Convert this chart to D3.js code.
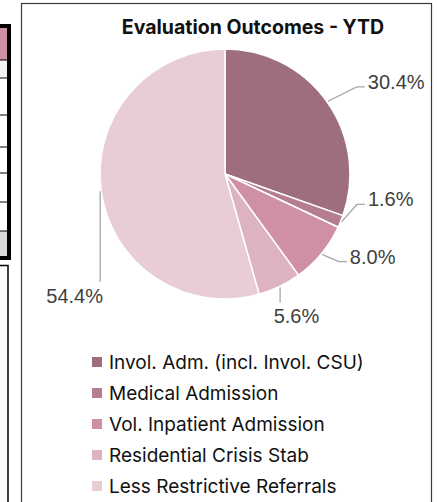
<!DOCTYPE html>
<html>
<head>
<meta charset="utf-8">
<script src="https://cdn.jsdelivr.net/npm/d3@7/dist/d3.min.js"></script>
<style>
  html, body { margin: 0; padding: 0; background: #fff; }
  svg { display: block; }
</style>
</head>
<body>
<div id="chart"></div>
<script>
// chart data
const categories = [
  'Invol. Adm. (incl. Invol. CSU)',
  'Medical Admission',
  'Vol. Inpatient Admission',
  'Residential Crisis Stab',
  'Less Restrictive Referrals'
];
const shares = [30.4, 1.6, 8.0, 5.6, 54.4];
const colors = ['#9E6E7E', '#B57D90', '#CF8FA4', '#DDB3C1', '#E8CDD5'];
const title = 'Evaluation Outcomes - YTD';

// label placement tweaks (Excel moved some labels around)
const labelNudge = [[0, 9], [-19, -41], [-10, -29], [-5, -15], [23, 98]];
const labelSide = ['left', 'left', 'left', 'top', 'top'];

const width = 439, height = 502;
const cx = 225, cy = 174, radius = 125;

const svg = d3.select('#chart').append('svg')
  .attr('width', width)
  .attr('height', height);

// bit of the neighbouring table on the left edge
const side = svg.append('g').attr('class', 'side-table');
side.append('rect').attr('x', -10).attr('y', 26).attr('width', 19).attr('height', 232)
  .attr('fill', '#fff').attr('stroke', '#000').attr('stroke-width', 4);
side.append('rect').attr('x', 0).attr('y', 28).attr('width', 7).attr('height', 32).attr('fill', '#D08FA4');
side.append('rect').attr('x', 0).attr('y', 60).attr('width', 7).attr('height', 18).attr('fill', '#F2F2F2');
side.append('rect').attr('x', 0).attr('y', 231).attr('width', 7).attr('height', 25).attr('fill', '#D9D9D9');
side.selectAll('line.row')
  .data([60, 78, 115, 147, 173, 202, 231])
  .enter().append('line')
  .attr('class', 'row')
  .attr('x1', 0).attr('x2', 8)
  .attr('y1', d => d).attr('y2', d => d)
  .attr('stroke', '#000').attr('stroke-width', 1);
side.append('rect').attr('x', -10).attr('y', 265.5).attr('width', 18).attr('height', 250)
  .attr('fill', '#FBFBFB').attr('stroke', '#000').attr('stroke-width', 1.5);

// chart frame
svg.append('rect')
  .attr('x', 21.5).attr('y', 3.5)
  .attr('width', 410).attr('height', 520)
  .attr('fill', '#fff')
  .attr('stroke', '#3a3a3a')
  .attr('stroke-width', 1.2);

const legendFont = 'Inter, "Liberation Sans", Arial, sans-serif';
const labelFont = '"Liberation Sans", Arial, sans-serif';

svg.append('text')
  .attr('x', 253)
  .attr('y', 34)
  .attr('text-anchor', 'middle')
  .style('font-family', legendFont)
  .style('font-weight', 'bold')
  .style('font-size', '19.5px')
  .attr('fill', '#111')
  .text(title);

const data = categories.map((c, i) => ({name: c, value: shares[i], color: colors[i], i}));

const pie = d3.pie().sort(null).value(d => d.value);
const arcs = pie(data);

const arc = d3.arc().innerRadius(0).outerRadius(radius);
const labelArc = d3.arc().innerRadius(radius * 1.4).outerRadius(radius * 1.4);

const main = svg.append('g').attr('transform', `translate(${cx},${cy})`);

main.selectAll('path.slice')
  .data(arcs)
  .enter().append('path')
  .attr('class', 'slice')
  .attr('d', arc)
  .attr('fill', d => d.data.color)
  .attr('stroke', '#fff')
  .attr('stroke-width', 1.5);

// labels + leader lines
arcs.forEach((d, i) => {
  const c = labelArc.centroid(d);
  const lx = c[0] + labelNudge[i][0];
  const ly = c[1] + labelNudge[i][1];
  const mid = (d.startAngle + d.endAngle) / 2;
  const edge = [Math.sin(mid) * (radius + 1), -Math.cos(mid) * (radius + 1)];
  let pts;
  if (labelSide[i] === 'left') {
    const ay = ly + 5;
    pts = [edge, [lx - 11, ay], [lx - 3, ay]];
  } else {
    pts = [edge, [edge[0], ly - 14]];
  }
  main.append('path')
    .attr('d', d3.line()(pts))
    .attr('fill', 'none')
    .attr('stroke', '#A6A6A6')
    .attr('stroke-width', 1.3);

  main.append('text')
    .attr('x', lx)
    .attr('y', ly)
    .attr('dy', '0.35em')
    .attr('text-anchor', labelSide[i] === 'left' ? 'start' : 'middle')
    .style('font-family', labelFont)
    .style('font-size', '20px')
    .attr('fill', '#404040')
    .text(d.data.value.toFixed(1) + '%');
});

// legend
const legend = svg.append('g').attr('transform', 'translate(92,362)');
const item = legend.selectAll('g.item')
  .data(data)
  .enter().append('g')
  .attr('class', 'item')
  .attr('transform', (d, i) => `translate(0,${i * 31})`);
item.append('rect')
  .attr('x', 0).attr('y', -5)
  .attr('width', 10).attr('height', 10)
  .attr('fill', d => d.color);
item.append('text')
  .attr('x', 17)
  .attr('y', 0)
  .attr('dy', '0.35em')
  .style('font-family', legendFont)
  .style('font-size', '19px')
  .attr('fill', '#111')
  .text(d => d.name);
</script>
</body>
</html>
